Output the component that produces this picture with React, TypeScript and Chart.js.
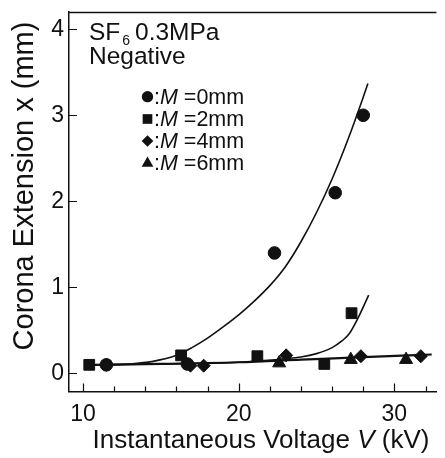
import { useEffect, useRef } from 'react';
import { Chart, registerables } from 'chart.js';

Chart.register(...registerables);

const FONT = "'Liberation Sans', Arial, Helvetica, sans-serif";
const INK = '#111111';

// axis ticks
const xMajorTicks = [10, 20, 30];
const xMinorTicks = [12, 14, 16, 18, 22, 24, 26, 28, 32];
const yMajorTicks = [0, 1, 2, 3, 4];

// measured points
const m0Voltage = [11.5, 16.7, 22.3, 26.2, 28.0];
const m0Extension = [0.1, 0.11, 1.4, 2.1, 3.0];
const m2Voltage = [10.4, 16.3, 21.2, 25.5, 27.25];
const m2Extension = [0.1, 0.21, 0.2, 0.11, 0.7];
const m4Voltage = [11.5, 16.9, 17.75, 23.05, 27.85, 31.7];
const m4Extension = [0.1, 0.09, 0.09, 0.21, 0.2, 0.2];
const m6Voltage = [22.6, 27.2, 30.75];
const m6Extension = [0.12, 0.16, 0.16];

// fitted curves
const fit0Voltage = [11.5, 13, 14.5, 16, 17, 18, 19, 20, 21, 22, 23, 24, 25, 26, 27, 28, 28.3];
const fit0Extension = [0.1, 0.11, 0.14, 0.21, 0.3, 0.41, 0.54, 0.68, 0.84, 1.02, 1.24, 1.53, 1.87, 2.26, 2.71, 3.21, 3.37];
const fit2Voltage = [10.6, 15, 20, 23, 24, 25, 26, 26.65, 27.1, 27.6, 28.35];
const fit2Extension = [0.1, 0.11, 0.13, 0.17, 0.19, 0.23, 0.3, 0.38, 0.46, 0.62, 0.91];
const fitLowVoltage = [10.6, 15, 20, 24, 28, 32.4];
const fitLowExtension = [0.1, 0.11, 0.13, 0.16, 0.19, 0.22];

const legendSpacing = ['0mm', '2mm', '4mm', '6mm'];

const toPoints = (xs: number[], ys: number[]) => xs.map((x, i) => ({ x, y: ys[i] }));

function drawMarker(ctx: CanvasRenderingContext2D, style: string, x: number, y: number, r: number) {
  ctx.beginPath();
  if (style === 'circle') {
    ctx.arc(x, y, r, 0, Math.PI * 2);
  } else if (style === 'rect') {
    const s = r * Math.SQRT1_2;
    ctx.rect(x - s, y - s, 2 * s, 2 * s);
  } else if (style === 'rectRot') {
    ctx.moveTo(x, y - r);
    ctx.lineTo(x + r, y);
    ctx.lineTo(x, y + r);
    ctx.lineTo(x - r, y);
    ctx.closePath();
  } else {
    ctx.moveTo(x, y - r);
    ctx.lineTo(x + r * 0.866, y + r * 0.5);
    ctx.lineTo(x - r * 0.866, y + r * 0.5);
    ctx.closePath();
  }
  ctx.fill();
}

// draws a run of [text, italic] pieces starting at x
function drawRun(ctx: CanvasRenderingContext2D, parts: [string, boolean][], size: number, x: number, y: number) {
  let cx = x;
  parts.forEach(([t, it]) => {
    ctx.font = `${it ? 'italic ' : ''}${size}px ${FONT}`;
    ctx.fillText(t, cx, y);
    cx += ctx.measureText(t).width;
  });
}
function runWidth(ctx: CanvasRenderingContext2D, parts: [string, boolean][], size: number) {
  let w = 0;
  parts.forEach(([t, it]) => {
    ctx.font = `${it ? 'italic ' : ''}${size}px ${FONT}`;
    w += ctx.measureText(t).width;
  });
  return w;
}

const decorPlugin = {
  id: 'decor',
  afterDraw(chart: any) {
    const ctx: CanvasRenderingContext2D = chart.ctx;
    const { left, top, right, bottom } = chart.chartArea;
    const xs = chart.scales.x;
    const ys = chart.scales.y;
    ctx.save();
    ctx.strokeStyle = INK;
    ctx.fillStyle = INK;
    ctx.lineWidth = 1.5;
    // top frame
    ctx.beginPath();
    ctx.moveTo(left, top + 0.5);
    ctx.lineTo(right, top + 0.5);
    ctx.stroke();
    // inward ticks
    ctx.lineWidth = 1.2;
    ctx.beginPath();
    yMajorTicks.forEach((v) => {
      const py = Math.round(ys.getPixelForValue(v)) + 0.5;
      ctx.moveTo(left, py);
      ctx.lineTo(left + 8, py);
    });
    xMajorTicks.forEach((v) => {
      const px = Math.round(xs.getPixelForValue(v)) + 0.5;
      ctx.moveTo(px, bottom);
      ctx.lineTo(px, bottom - 8);
    });
    xMinorTicks.forEach((v) => {
      const px = Math.round(xs.getPixelForValue(v)) + 0.5;
      ctx.moveTo(px, bottom);
      ctx.lineTo(px, bottom - 5);
    });
    ctx.stroke();

    ctx.textAlign = 'left';
    ctx.textBaseline = 'alphabetic';

    // x axis title with italic V
    const xTitle: [string, boolean][] = [['Instantaneous Voltage ', false], ['V', true], [' (kV)', false]];
    const xw = runWidth(ctx, xTitle, 26);
    drawRun(ctx, xTitle, 26, 261 - xw / 2, 448);

    // y axis title
    ctx.save();
    ctx.font = `29px ${FONT}`;
    ctx.textAlign = 'center';
    ctx.translate(33, 186);
    ctx.rotate(-Math.PI / 2);
    ctx.fillText('Corona Extension x (mm)', 0, 0);
    ctx.restore();

    // condition annotation
    ctx.font = `24.5px ${FONT}`;
    ctx.fillText('SF', 89, 39.5);
    const sfW = ctx.measureText('SF').width;
    ctx.font = `14px ${FONT}`;
    ctx.fillText('6', 89 + sfW + 2, 45);
    ctx.font = `24.5px ${FONT}`;
    ctx.fillText('0.3MPa', 135, 39.5);
    ctx.fillText('Negative', 89, 63.5);

    // legend
    const rowY = [96.7, 119, 141, 163.3];
    chart.data.datasets.slice(0, 4).forEach((ds: any, i: number) => {
      const cy = rowY[i];
      drawMarker(ctx, ds.pointStyle, 147.5, cy, ds.pointRadius * 0.9);
      drawRun(ctx, [[':', false], ['M', true], [' =' + legendSpacing[i], false]], 21.5, 154, cy + 6.8);
    });
    ctx.restore();
  },
};

export default function App() {
  const canvasRef = useRef<HTMLCanvasElement | null>(null);

  useEffect(() => {
    if (!canvasRef.current) return;
    const markerBase = { showLine: false, backgroundColor: INK, borderColor: INK, borderWidth: 1 };
    const lineBase = {
      showLine: true,
      pointRadius: 0,
      borderColor: INK,
      backgroundColor: INK,
      fill: false,
      cubicInterpolationMode: 'monotone' as const,
    };
    const chart = new Chart(canvasRef.current, {
      type: 'scatter',
      data: {
        datasets: [
          { ...markerBase, label: 'M=0mm', data: toPoints(m0Voltage, m0Extension), pointStyle: 'circle', pointRadius: 6.3 },
          { ...markerBase, label: 'M=2mm', data: toPoints(m2Voltage, m2Extension), pointStyle: 'rect', pointRadius: 7.6 },
          { ...markerBase, label: 'M=4mm', data: toPoints(m4Voltage, m4Extension), pointStyle: 'rectRot', pointRadius: 6.5 },
          { ...markerBase, label: 'M=6mm', data: toPoints(m6Voltage, m6Extension), pointStyle: 'triangle', pointRadius: 7.5 },
          { ...lineBase, label: 'fit 0mm', data: toPoints(fit0Voltage, fit0Extension), borderWidth: 1.6 },
          { ...lineBase, label: 'fit 2mm', data: toPoints(fit2Voltage, fit2Extension), borderWidth: 1.6 },
          { ...lineBase, label: 'fit 4-6mm', data: toPoints(fitLowVoltage, fitLowExtension), borderWidth: 2.2 },
        ] as any,
      },
      options: {
        animation: false,
        responsive: true,
        maintainAspectRatio: false,
        devicePixelRatio: 1,
        layout: { padding: { top: 12, right: 2, left: 0, bottom: 0 } },
        plugins: { legend: { display: false }, tooltip: { enabled: false } },
        scales: {
          x: {
            type: 'linear',
            position: 'bottom',
            min: 9.1,
            max: 32.7,
            ticks: {
              stepSize: 10,
              includeBounds: false,
              color: INK,
              padding: 9,
              font: { family: FONT, size: 23 },
            },
            grid: { display: false, drawTicks: false, tickLength: 0 },
            border: { display: true, color: INK, width: 1.5 },
            title: { display: false },
            afterFit: (scale: any) => {
              scale.height = 66.5;
              scale.paddingLeft = 0;
              scale.paddingRight = 0;
            },
          },
          y: {
            type: 'linear',
            min: -0.21,
            max: 4.2,
            ticks: {
              stepSize: 1,
              includeBounds: false,
              color: INK,
              padding: 5,
              font: { family: FONT, size: 23 },
            },
            grid: { display: false, drawTicks: false, tickLength: 0 },
            border: { display: true, color: INK, width: 1.5 },
            title: { display: false },
            afterFit: (scale: any) => {
              scale.width = 69;
              scale.paddingTop = 0;
              scale.paddingBottom = 0;
            },
          },
        },
      },
      plugins: [decorPlugin],
    });
    return () => chart.destroy();
  }, []);

  return (
    <div style={{ position: 'absolute', left: 0, top: 0, width: 445, height: 458, background: '#fff' }}>
      <canvas ref={canvasRef} />
    </div>
  );
}
